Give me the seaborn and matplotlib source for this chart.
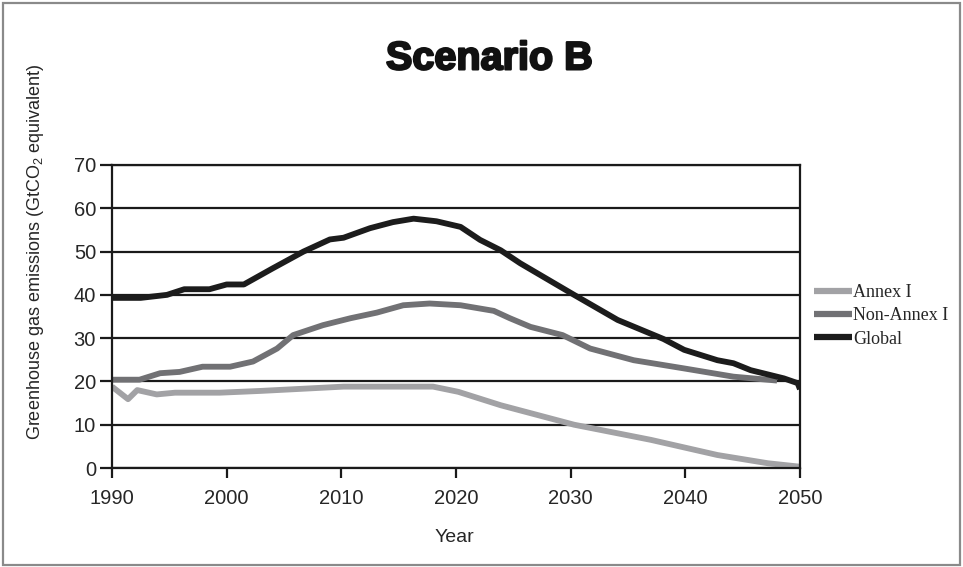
import matplotlib
matplotlib.use("Agg")
import matplotlib.pyplot as plt
import matplotlib.patheffects as pe
import numpy as np
import pandas as pd
import seaborn as sns
from matplotlib.patches import Rectangle

# values (GtCO2 equivalent)
annex_years = [1990, 1991.4, 1992.2, 1993.9, 1995.5, 1999.4, 2002.9, 2007.3, 2010.2,
               2018.0, 2020.2, 2023.9, 2030.3, 2037.0, 2042.8, 2047.2, 2050]
annex_vals = [18.8, 15.9, 18.0, 17.0, 17.4, 17.4, 17.8, 18.4, 18.8,
              18.8, 17.6, 14.5, 10.0, 6.5, 3.0, 1.1, 0.3]

nonannex_years = [1990, 1992.4, 1994.2, 1995.9, 1997.9, 2000.3, 2002.3, 2004.4, 2005.8,
                  2008.4, 2010.8, 2013.1, 2015.4, 2017.7, 2020.4, 2023.3, 2024.7, 2026.5,
                  2029.3, 2031.7, 2035.5, 2039.9, 2044.2, 2048]
nonannex_vals = [20.4, 20.4, 21.9, 22.2, 23.4, 23.4, 24.6, 27.6, 30.7,
                 33.0, 34.6, 35.9, 37.6, 38.0, 37.6, 36.3, 34.6, 32.6,
                 30.7, 27.6, 24.9, 23.0, 21.1, 20.2]

global_years = [1990, 1992.5, 1994.8, 1996.3, 1998.5, 2000, 2001.5, 2004, 2006.7, 2009,
                2010.2, 2012.5, 2014.5, 2016.3, 2018.3, 2020.4, 2022.1, 2023.9, 2025.6,
                2030.3, 2034.1, 2038.1, 2039.9, 2042.8, 2044.2, 2045.7, 2048.6, 2049.8, 2050]
global_vals = [39.3, 39.3, 40.0, 41.3, 41.3, 42.4, 42.4, 46.1, 50.0, 52.8,
               53.2, 55.4, 56.8, 57.6, 57.0, 55.7, 52.7, 50.3, 47.3,
               40.0, 34.2, 29.8, 27.3, 24.9, 24.2, 22.6, 20.7, 19.6, 18.2]

series_names = ["Annex I", "Non-Annex I", "Global"]
series_colors = ["#a2a2a5", "#717174", "#1c1c1c"]
x_ticks = [1990, 2000, 2010, 2020, 2030, 2040, 2050]
y_ticks = [0, 10, 20, 30, 40, 50, 60, 70]

df = pd.concat([
    pd.DataFrame({"Year": annex_years, "Emissions": annex_vals, "Series": series_names[0]}),
    pd.DataFrame({"Year": nonannex_years, "Emissions": nonannex_vals, "Series": series_names[1]}),
    pd.DataFrame({"Year": global_years, "Emissions": global_vals, "Series": series_names[2]}),
], ignore_index=True)

sns.set_style("white")
plt.rcParams["font.family"] = ["Liberation Sans", "DejaVu Sans"]
plt.rcParams["mathtext.default"] = "regular"

fig = plt.figure(figsize=(9.63, 5.67), dpi=100)
ax = fig.add_axes([0.1163, 0.1746, 0.7144, 0.5344])

# horizontal grid lines drawn first
ax.set_axisbelow(True)
ax.yaxis.grid(True, color="#1a1a1a", lw=1.6)
ax.xaxis.grid(False)

sns.lineplot(data=df, x="Year", y="Emissions", hue="Series", hue_order=series_names,
             palette=dict(zip(series_names, series_colors)), lw=4.2,
             sort=False, ax=ax, solid_capstyle="butt")

ax.set_xlim(1990, 2050)
ax.set_ylim(0, 70)
ax.set_xticks(x_ticks)
ax.set_yticks(y_ticks)
for side in ["left", "right", "top", "bottom"]:
    ax.spines[side].set_visible(True)
    ax.spines[side].set_color("#1a1a1a")
    ax.spines[side].set_linewidth(1.6)
ax.tick_params(axis="y", left=True, length=8.5, width=1.6, color="#1a1a1a",
               labelsize=14.5, pad=3)
ax.tick_params(axis="x", bottom=True, length=7, width=1.6, color="#1a1a1a",
               labelsize=14.5, pad=8)

ax.set_xlabel("Year", fontsize=14)
ax.xaxis.set_label_coords(0.497, -0.20)
ax.set_ylabel("Greenhouse gas emissions (GtCO$_2$ equivalent)", fontsize=13)
ax.yaxis.set_label_coords(-0.096, 0.713)

handles, labels = ax.get_legend_handles_labels()
ax.get_legend().remove()
leg = fig.legend(handles, labels, loc="center left", bbox_to_anchor=(0.828, 0.443),
                 frameon=False, handlelength=2.1, handletextpad=0.08, labelspacing=0.35,
                 prop={"family": ["Liberation Serif", "DejaVu Serif"], "size": 13})
for line in leg.get_lines():
    line.set_linewidth(4.5)

fig.text(0.508, 0.897, "Scenario B", ha="center", va="center", fontsize=28.5,
         fontweight="bold", color="#111111",
         path_effects=[pe.withStroke(linewidth=1.6, foreground="#111111")])

# gray frame around the whole picture
fig.patches.append(Rectangle((0.003, 0.003), 0.994, 0.992, transform=fig.transFigure,
                             fill=False, edgecolor="#8a8a8a", lw=1.6))

fig.savefig("out.png", dpi=100)
